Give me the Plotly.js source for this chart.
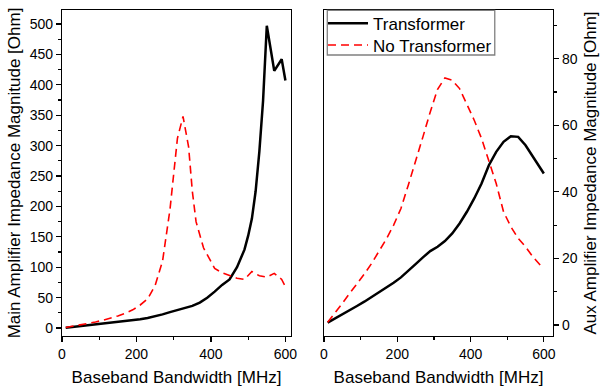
<!DOCTYPE html>
<html><head><meta charset="utf-8">
<script src="https://cdn.plot.ly/plotly-3.0.1.min.js"></script>
<style>html,body{margin:0;padding:0;background:#fff}#chart{width:600px;height:392px}</style>
</head><body><div id="chart"></div>
<script>
// Left panel: Main amplifier impedance magnitude [Ohm] vs baseband bandwidth [MHz]
const mainTfX = [10,30,50,70,90,110,130,150,170,190,210,230,250,270,290,310,330,350,370,390,410,430,450,470,490,500,510,520,530,540,550,570,590,600];
const mainTfY = [0.5,1.8,3.0,4.2,5.6,7.0,8.3,9.7,11.2,12.8,14.5,16.6,19.2,22.6,26.2,29.5,32.3,36.5,42,50,60,71,80,100,129,152,180,225,290,374,497,423,442,407];
const mainNoTfX = [10,30,50,70,90,110,130,150,170,190,210,230,250,270,290,310,325,340,350,360,380,410,430,450,470,490,510,530,550,570,590,600];
const mainNoTfY = [1,3,5,7.5,10,13,16,20,24.5,30,38,48,70,110,195,312,348,298,225,175,132,98,91,86,82,80,93,86,84,90,80,68];
// Right panel: Aux amplifier impedance magnitude [Ohm]
const auxTfX = [10,30,50,70,90,110,130,150,170,190,210,230,250,270,290,310,330,350,370,390,410,430,450,470,490,510,530,550,570,590,600];
const auxTfY = [0.7,1.9,3.1,4.4,5.7,7.0,8.4,9.8,11.3,12.7,14.3,16.2,18.3,20.3,22.2,23.5,25.2,27.5,30.5,34,38,42.5,48,52,55,56.7,56.5,54,50.5,47,45.5];
const auxNoTfX = [10,30,50,70,90,110,130,150,170,190,210,230,250,270,290,310,330,350,370,390,410,430,450,470,490,510,530,550,570,590];
const auxNoTfY = [0.8,3.5,6.5,9.5,12.3,15.3,18.5,22,25.8,30,35,42,49,56.5,64,70.8,74.2,73.5,71,66.5,61.5,56,49.5,42.5,34,29.5,26,23.5,20.5,18];
const seriesNames = ['Transformer','No Transformer'];
const xTitle = 'Baseband Bandwidth [MHz]';
const yTitleMain = 'Main Amplifier Impedance Magnitude [Ohm]';
const yTitleAux = 'Aux Amplifier Impedance Magnitude [Ohm]';

const FONT = 'Liberation Sans, Arial, sans-serif';
const TS = 17;
const solid = {color:'#000', width:2.5};
const dashed = {color:'#ff0000', width:1.6, dash:'8px,5px'};

const traces = [
  {x:mainTfX, y:mainTfY, xaxis:'x', yaxis:'y', mode:'lines', line:solid, name:seriesNames[0], showlegend:false},
  {x:mainNoTfX, y:mainNoTfY, xaxis:'x', yaxis:'y', mode:'lines', line:dashed, name:seriesNames[1], showlegend:false},
  {x:auxTfX, y:auxTfY, xaxis:'x2', yaxis:'y2', mode:'lines', line:solid, name:seriesNames[0], legend:'legend'},
  {x:auxNoTfX, y:auxNoTfY, xaxis:'x2', yaxis:'y2', mode:'lines', line:dashed, name:seriesNames[1], legend:'legend2'}
];

function ax(extra){
  return Object.assign({
    showline:true, mirror:true, linecolor:'#000', linewidth:1.2,
    ticks:'outside', ticklen:5, tickwidth:1.2, tickcolor:'#000',
    showgrid:false, zeroline:false, automargin:false,
    tickfont:{family:FONT, size:14, color:'#000'}
  }, extra);
}
function leg(y){
  return {x:0.5316, y:y, xanchor:'left', yanchor:'top', bgcolor:'rgba(0,0,0,0)',
          borderwidth:0, font:{family:FONT, size:17, color:'#000'},
          itemwidth:40, tracegroupgap:0};
}

const layout = {
  width:600, height:392,
  margin:{l:62, r:47, t:10, b:56, autoexpand:false},
  paper_bgcolor:'#fff', plot_bgcolor:'#fff',
  font:{family:FONT, color:'#000'},
  showlegend:true,
  legend: leg(1.0131),
  legend2: leg(0.9466),
  shapes:[{type:'rect', xref:'x2 domain', yref:'y2 domain', x0:0.0144, x1:0.7457, y0:0.862, y1:0.999,
           line:{color:'#808080', width:1.3}, fillcolor:'rgba(255,255,255,0)', layer:'above', opacity:1}],
  xaxis: ax({domain:[0,0.4664], range:[0,615], anchor:'y', dtick:200, tick0:0,
             minor:{ticks:'outside', dtick:100, ticklen:3, tickcolor:'#000'},
             title:{text:xTitle, font:{family:FONT, size:TS}, standoff:10}}),
  yaxis: ax({range:[-13,523], anchor:'x', dtick:50, tick0:0,
             minor:{ticks:'outside', dtick:25, ticklen:3, tickcolor:'#000'},
             title:{text:yTitleMain, font:{family:FONT, size:TS}, standoff:4}}),
  xaxis2: ax({domain:[0.5336,1], range:[0,625], anchor:'y2', dtick:200, tick0:0,
             minor:{ticks:'outside', dtick:100, ticklen:3, tickcolor:'#000'},
             title:{text:xTitle, font:{family:FONT, size:TS}, standoff:10}}),
  yaxis2: ax({range:[-3.3,94.6], anchor:'x2', side:'right', dtick:20, tick0:0,
             minor:{ticks:'outside', dtick:10, ticklen:3, tickcolor:'#000'},
             title:{text:yTitleAux, font:{family:FONT, size:TS}, standoff:14}})
};

Plotly.newPlot('chart', traces, layout, {displayModeBar:false, staticPlot:true});
</script></body></html>
